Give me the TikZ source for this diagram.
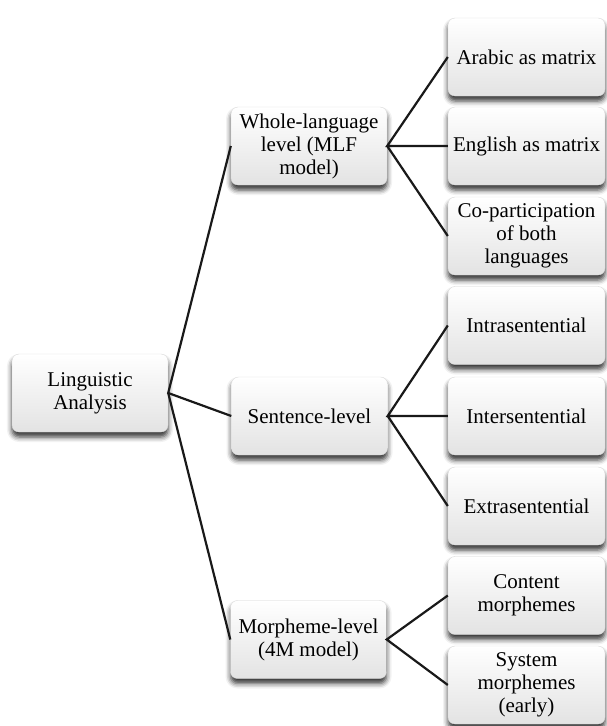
\documentclass[tikz,border=0pt]{standalone}
\usepackage{fontspec}
\setmainfont{Liberation Serif}
\usetikzlibrary{shadows.blur}
\begin{document}
\begin{tikzpicture}[x=1pt,y=1pt,
  box/.style={rounded corners=7pt, draw=gray!30, line width=0.4pt,
    top color=white, bottom color=gray!22,
    blur shadow={shadow xshift=0pt, shadow yshift=-5pt, shadow blur radius=5pt, shadow opacity=80},
    minimum width=156pt, minimum height=78pt, inner sep=2pt, align=center,
    font=\fontsize{21}{23}\selectfont, text=black},
  conn/.style={line width=2.2pt, draw=black!90}]
\useasboundingbox (0,0) rectangle (606,-726);
\node[box] (root) at (90,-393) {Linguistic\\Analysis};
\node[box] (whole) at (309,-146) {Whole-language\\level (MLF\\model)};
\node[box] (sent) at (309.5,-416) {Sentence-level};
\node[box] (morph) at (308.5,-639.5) {Morpheme-level\\(4M model)};
\node[box, minimum width=157pt] (arabic) at (526.5,-57) {Arabic as matrix};
\node[box, minimum width=157pt] (english) at (526.5,-146) {English as matrix};
\node[box, minimum width=157pt] (copart) at (526.5,-236) {Co-participation\\of both\\languages};
\node[box, minimum width=157pt] (intra) at (526.5,-325.5) {Intrasentential};
\node[box, minimum width=157pt] (inter) at (526.5,-416) {Intersentential};
\node[box, minimum width=157pt] (extra) at (526.5,-506) {Extrasentential};
\node[box, minimum width=157pt] (content) at (526.5,-595.5) {Content\\morphemes};
\node[box, minimum width=157pt] (system) at (526.5,-685) {System\\morphemes\\(early)};
\draw[conn] (whole.west) -- (root.east) -- (sent.west);
\draw[conn] (root.east) -- (morph.west);
\draw[conn] (arabic.west) -- (whole.east) -- (english.west);
\draw[conn] (whole.east) -- (copart.west);
\draw[conn] (intra.west) -- (sent.east) -- (inter.west);
\draw[conn] (sent.east) -- (extra.west);
\draw[conn] (content.west) -- (morph.east) -- (system.west);
\end{tikzpicture}
\end{document}
